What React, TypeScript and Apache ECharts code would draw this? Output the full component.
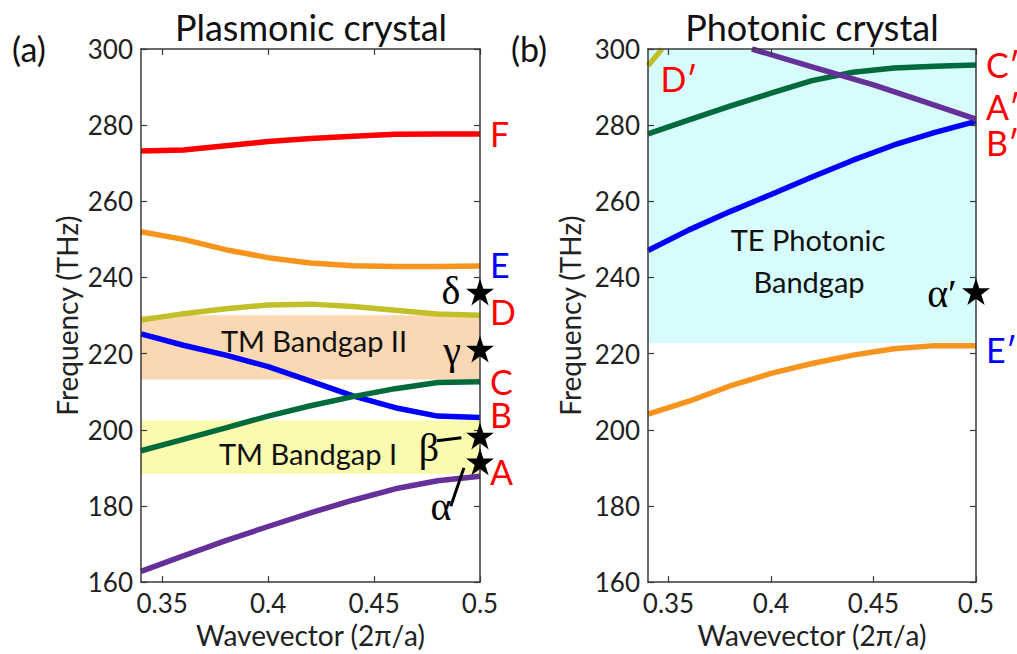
import React, { useEffect, useRef } from "react";
import * as echarts from "echarts";

// ---------- data ----------
const xTicks = [0.35, 0.4, 0.45, 0.5];

// Panel (a): plasmonic crystal, TM bands
const waveL = [0.34, 0.36, 0.38, 0.4, 0.42, 0.44, 0.46, 0.48, 0.5];
const bandA = [162.8, 166.9, 170.9, 174.6, 178.2, 181.5, 184.5, 186.6, 187.8];
const bandB = [225.2, 222.2, 219.6, 216.6, 212.8, 208.9, 205.8, 203.6, 203.2];
const bandC = [194.5, 197.5, 200.5, 203.6, 206.3, 208.7, 210.8, 212.4, 212.6];
const bandD = [228.8, 230.5, 231.8, 232.8, 233.0, 232.4, 231.4, 230.4, 230.1];
const bandE = [252.0, 250.0, 247.3, 245.2, 243.8, 243.1, 242.9, 242.9, 243.0];
const bandF = [273.2, 273.5, 274.6, 275.7, 276.5, 277.1, 277.6, 277.7, 277.7];
const gapI = [188.4, 202.5];
const gapII = [213.2, 230.1];
const starsL = [
  { name: "α", f: 191.6 },
  { name: "β", f: 198.4 },
  { name: "γ", f: 221.2 },
  { name: "δ", f: 236.2 },
];

// Panel (b): photonic crystal, TE bands
const waveR = [0.34, 0.36, 0.38, 0.4, 0.42, 0.44, 0.46, 0.48, 0.5];
const bandBp = [247.1, 252.5, 257.3, 261.8, 266.4, 270.8, 274.8, 278.1, 281.0];
const bandCp = [277.7, 281.4, 285.0, 288.4, 291.7, 293.9, 295.0, 295.5, 295.8];
const bandEp = [204.1, 207.5, 211.5, 214.8, 217.4, 219.6, 221.3, 222.1, 222.1];
const waveAp = [0.3907, 0.42, 0.45, 0.475, 0.5];
const bandAp = [300.0, 295.3, 290.6, 286.1, 281.6];
const waveDp = [0.34, 0.3468];
const bandDp = [295.6, 300.0];
const gapTE = [222.7, 300];
const starsR = [{ name: "α′", f: 236.3 }];

// ---------- style ----------
const FONT = "Lato";
const SERIF = "Liberation Serif";
const AX = "#3a3a3a";
const RED = "#ff0000";
const BLUE = "#0000ff";
const C_PURPLE = "#66309a";
const C_BLUE = "#0000ff";
const C_GREEN = "#006b3a";
const C_OLIVE = "#c2c02a";
const C_ORANGE = "#f7941d";
const C_RED = "#ff0000";
const STAR =
  "path://M50 0 L61.23 34.55 L97.55 34.55 L68.16 55.9 L79.39 90.45 L50 69.1 L20.61 90.45 L31.84 55.9 L2.45 34.55 L38.77 34.55 Z";

const zip = (xs: number[], ys: number[]) => xs.map((x, i) => [x, ys[i]]);

function xAxes(g: number) {
  const base = {
    gridIndex: g,
    type: "value",
    min: 0.34,
    max: 0.5,
    z: 10,
    splitLine: { show: false },
    axisLine: { show: true, onZero: false, lineStyle: { color: AX, width: 1.5 } },
    axisTick: { show: true, inside: true, length: 6, customValues: xTicks, lineStyle: { color: AX, width: 1.2 } },
  };
  return [
    {
      ...base,
      position: "bottom",
      axisLabel: {
        customValues: xTicks,
        fontSize: 26,
        color: "#222",
        fontFamily: FONT,
        margin: 8,
        showMinLabel: true,
        showMaxLabel: true,
      },
      name: "Wavevector (2π/a)",
      nameLocation: "middle",
      nameGap: 36,
      nameTextStyle: { fontSize: 28, color: "#222", fontFamily: FONT },
    },
    { ...base, position: "top", axisLabel: { show: false } },
  ];
}

function yAxes(g: number, gap: number) {
  const base = {
    gridIndex: g,
    type: "value",
    min: 160,
    max: 300,
    interval: 20,
    z: 10,
    splitLine: { show: false },
    axisLine: { show: true, onZero: false, lineStyle: { color: AX, width: 1.5 } },
    axisTick: { show: true, inside: true, length: 6, lineStyle: { color: AX, width: 1.2 } },
  };
  return [
    {
      ...base,
      position: "left",
      axisLabel: { fontSize: 26, color: "#222", fontFamily: FONT, margin: 8, showMinLabel: true, showMaxLabel: true },
      name: "Frequency (THz)",
      nameLocation: "middle",
      nameGap: gap,
      nameTextStyle: { fontSize: 28, color: "#222", fontFamily: FONT },
    },
    { ...base, position: "right", axisLabel: { show: false } },
  ];
}

function band(
  xs: number[],
  ys: number[],
  color: string,
  ax: number,
  label?: { text: string; color: string; dy?: number }
) {
  return {
    type: "line",
    xAxisIndex: ax,
    yAxisIndex: ax,
    data: zip(xs, ys),
    showSymbol: false,
    symbol: "none",
    z: 4,
    lineStyle: { color, width: 5.5, cap: "butt", join: "round" },
    endLabel: label
      ? {
          show: true,
          formatter: label.text,
          color: label.color,
          fontSize: 34,
          fontFamily: FONT,
          distance: 10,
          offset: [0, label.dy || 0],
        }
      : { show: false },
  };
}

function gapArea(ax: number, range: number[], color: string) {
  return {
    type: "line",
    xAxisIndex: ax,
    yAxisIndex: ax,
    data: [],
    z: 1,
    silent: true,
    markArea: {
      silent: true,
      itemStyle: { color, opacity: 1 },
      data: [[{ yAxis: range[0] }, { yAxis: range[1] }]],
    },
  };
}

const greekLabel = (text: string, offset: number[]) => ({
  show: true,
  formatter: text,
  position: "inside",
  offset,
  color: "#000",
  opacity: 1,
  fontSize: 40,
  fontFamily: SERIF,
});

const labelOffsets: Record<string, number[]> = {
  "α": [-39, 45],
  "β": [-51, 12],
  "γ": [-28, 1],
  "δ": [-29, -1],
  "α′": [-34, 2],
};

function stars(ax: number, list: { name: string; f: number }[]) {
  return {
    type: "scatter",
    xAxisIndex: ax,
    yAxisIndex: ax,
    clip: false,
    z: 12,
    symbol: STAR,
    symbolSize: [28, 27],
    itemStyle: { color: "#000", opacity: 1 },
    data: list.map((s) => ({
      value: [0.5, s.f],
      label: greekLabel(s.name, labelOffsets[s.name]),
    })),
  };
}

const pointerLines = {
  type: "line",
  xAxisIndex: 0,
  yAxisIndex: 0,
  data: [],
  z: 11,
  markLine: {
    silent: true,
    symbol: "none",
    label: { show: false },
    lineStyle: { color: "#000", width: 3, type: "solid", opacity: 1 },
    data: [
      [{ coord: [0.4797, 197.1] }, { coord: [0.4912, 197.9] }],
      [{ coord: [0.4862, 179.9] }, { coord: [0.4924, 190.0] }],
    ],
  },
};

const txt = (x: number, y: number, text: string, size: number, color = "#111", family = FONT) => ({
  type: "text",
  x,
  y,
  z: 20,
  style: {
    text,
    fill: color,
    fontSize: size,
    fontFamily: family,
    align: "center",
    verticalAlign: "middle",
    textAlign: "center",
    textVerticalAlign: "middle",
  },
});

const option = {
  animation: false,
  backgroundColor: "#fff",
  grid: [
    { left: 141, top: 49, width: 339, height: 539 },
    { left: 648, top: 49, width: 328, height: 537 },
  ],
  xAxis: [...xAxes(0), ...xAxes(1)],
  yAxis: [...yAxes(0, 60), ...yAxes(1, 64)],
  graphic: [
    txt(311, 27, "Plasmonic crystal", 36),
    txt(812, 27, "Photonic crystal", 36),
    txt(29, 48, "(a)", 34),
    txt(529, 48, "(b)", 34),
    txt(314, 340, "TM Bandgap II", 29),
    txt(308, 453, "TM Bandgap I", 29),
    txt(808, 239, "TE Photonic", 29),
    txt(809, 281, "Bandgap", 29),
    txt(679, 78, "D′", 34, RED),
  ],
  series: [
    gapArea(0, gapI, "#fbfbb0"),
    gapArea(0, gapII, "#fbd8b4"),
    gapArea(2, gapTE, "#d7fcfc"),
    band(waveL, bandA, C_PURPLE, 0, { text: "A", color: RED, dy: -5 }),
    band(waveL, bandB, C_BLUE, 0, { text: "B", color: RED, dy: -3 }),
    band(waveL, bandC, C_GREEN, 0, { text: "C", color: RED }),
    band(waveL, bandD, C_OLIVE, 0, { text: "D", color: RED, dy: -4 }),
    band(waveL, bandE, C_ORANGE, 0, { text: "E", color: BLUE, dy: -2 }),
    band(waveL, bandF, C_RED, 0, { text: "F", color: RED }),
    band(waveR, bandEp, C_ORANGE, 2, { text: "E′", color: BLUE, dy: 4 }),
    band(waveR, bandBp, C_BLUE, 2, { text: "B′", color: RED, dy: 21 }),
    band(waveR, bandCp, C_GREEN, 2, { text: "C′", color: RED }),
    band(waveAp, bandAp, C_PURPLE, 2, { text: "A′", color: RED, dy: -13 }),
    band(waveDp, bandDp, C_OLIVE, 2),
    pointerLines,
    stars(0, starsL),
    stars(2, starsR),
  ],
};

export default function App() {
  const ref = useRef<HTMLDivElement>(null);
  useEffect(() => {
    const chart = echarts.init(ref.current!, null, { renderer: "svg" });
    chart.setOption(option as any);
    return () => chart.dispose();
  }, []);
  return (
    <div
      ref={ref}
      style={{ position: "fixed", left: 0, top: 0, width: 1017, height: 654, background: "#fff" }}
    />
  );
}
